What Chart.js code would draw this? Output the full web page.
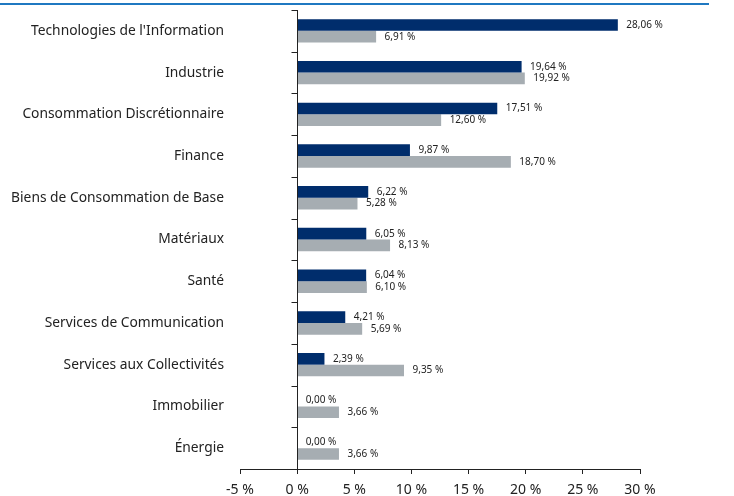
<!DOCTYPE html>
<html>
<head>
<meta charset="utf-8">
<script src="https://cdn.jsdelivr.net/npm/chart.js@4/dist/chart.umd.min.js"></script>
<style>
html,body{margin:0;padding:0;background:#fff;}
#wrap{width:734px;height:496px;position:relative;}
</style>
</head>
<body>
<div id="wrap"><canvas id="c" width="734" height="496"></canvas></div>
<script>
const categories = [
  "Technologies de l'Information",
  "Industrie",
  "Consommation Discrétionnaire",
  "Finance",
  "Biens de Consommation de Base",
  "Matériaux",
  "Santé",
  "Services de Communication",
  "Services aux Collectivités",
  "Immobilier",
  "Énergie"
];
const fundValues = [28.06, 19.64, 17.51, 9.87, 6.22, 6.05, 6.04, 4.21, 2.39, 0.00, 0.00];
const indexValues = [6.91, 19.92, 12.60, 18.70, 5.28, 8.13, 6.10, 5.69, 9.35, 3.66, 3.66];
const xTicks = [-5, 0, 5, 10, 15, 20, 25, 30];

const FONT = "'Noto Sans', sans-serif";
const fmt = v => v.toFixed(2).replace('.', ',') + ' %';

const decor = {
  id: 'decor',
  beforeDraw(chart) {
    const ctx = chart.ctx;
    ctx.save();
    ctx.strokeStyle = '#1f78c1';
    ctx.lineWidth = 2;
    ctx.beginPath();
    ctx.moveTo(0, 4);
    ctx.lineTo(709, 4);
    ctx.stroke();
    ctx.restore();
  },
  afterDatasetsDraw(chart) {
    const ctx = chart.ctx;
    const xs = chart.scales.x, ys = chart.scales.y;
    const area = chart.chartArea;
    const x0 = Math.round(xs.getPixelForValue(0)) + 0.5;
    ctx.save();
    ctx.strokeStyle = '#222';
    ctx.lineWidth = 1;
    ctx.beginPath();
    ctx.moveTo(x0, area.top);
    ctx.lineTo(x0, area.bottom);
    const n = categories.length;
    const step = (area.bottom - area.top) / n;
    for (let i = 0; i < n; i++) {
      const yb = Math.round(ys.getPixelForValue(i) - step / 2) + 0.5;
      ctx.moveTo(x0 - 6, yb);
      ctx.lineTo(x0, yb);
    }
    ctx.stroke();
    // value labels
    ctx.fillStyle = '#222';
    ctx.font = "10px " + FONT;
    ctx.textAlign = 'left';
    ctx.textBaseline = 'middle';
    chart.data.datasets.forEach((ds, di) => {
      const meta = chart.getDatasetMeta(di);
      meta.data.forEach((el, i) => {
        ctx.fillText(fmt(ds.data[i]), el.x + 8.5, el.y);
      });
    });
    ctx.restore();
  }
};

new Chart(document.getElementById('c'), {
  type: 'bar',
  data: {
    labels: categories,
    datasets: [
      { label: 'Fonds', data: fundValues, backgroundColor: '#002d6c', borderWidth: 0,
        categoryPercentage: 0.56, barPercentage: 1.0 },
      { label: 'Indice', data: indexValues, backgroundColor: '#a6adb2', borderWidth: 0,
        categoryPercentage: 0.56, barPercentage: 1.0 }
    ]
  },
  options: {
    indexAxis: 'y',
    responsive: false,
    animation: false,
    layout: { padding: { top: 10, right: 94, left: 0, bottom: 0 } },
    plugins: { legend: { display: false }, tooltip: { enabled: false } },
    scales: {
      x: {
        min: -5, max: 30,
        afterBuildTicks(scale) { scale.ticks = xTicks.map(v => ({ value: v })); },
        afterFit(scale) { scale.height = 27; scale.paddingLeft = 0; scale.paddingRight = 0; },
        grid: { display: true, drawOnChartArea: false, drawTicks: true, tickLength: 5, color: '#222' },
        border: { display: true, color: '#222', width: 1 },
        ticks: {
          color: '#222', padding: 8,
          font: { family: FONT, size: 14 },
          maxRotation: 0,
          callback: v => v + ' %'
        }
      },
      y: {
        afterFit(scale) { scale.width = 240; scale.paddingTop = 0; scale.paddingBottom = 0; },
        grid: { display: false, drawTicks: false },
        border: { display: false },
        ticks: { color: '#222', padding: 16, font: { family: FONT, size: 13.8 } }
      }
    }
  },
  plugins: [decor]
});
</script>
</body>
</html>
